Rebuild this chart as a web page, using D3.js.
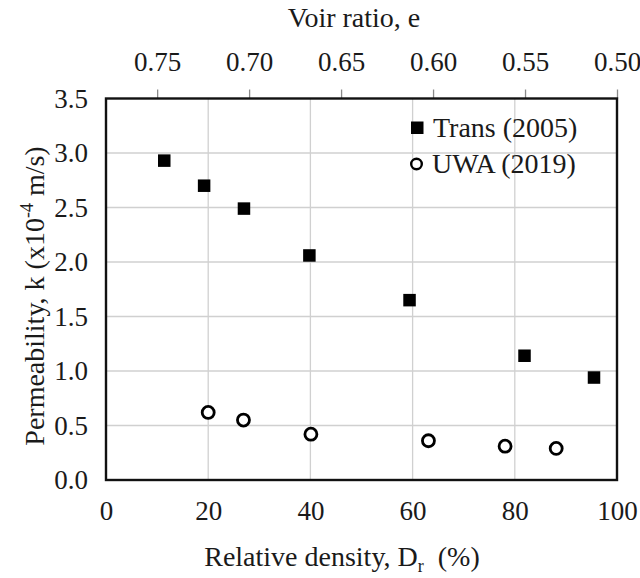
<!DOCTYPE html>
<html>
<head>
<meta charset="utf-8">
<script src="https://cdn.jsdelivr.net/npm/d3@7"></script>
<style>
  html, body { margin: 0; padding: 0; background: #fff; }
  svg { display: block; }
</style>
</head>
<body>
<svg id="chart" width="640" height="578"></svg>
<script>
// Relative density (%) and permeability (x10^-4 m/s)
const transDr = [11.4, 19.2, 27.0, 39.8, 59.4, 81.9, 95.5];
const transK  = [2.93, 2.70, 2.49, 2.06, 1.65, 1.14, 0.94];
const uwaDr   = [20.0, 26.9, 40.1, 63.1, 78.1, 88.1];
const uwaK    = [0.62, 0.55, 0.42, 0.36, 0.31, 0.29];

const seriesNames = ["Trans (2005)", "UWA (2019)"];
const drTicks = [0, 20, 40, 60, 80, 100];
const kTicks = [0, 0.5, 1.0, 1.5, 2.0, 2.5, 3.0, 3.5];
const eTicks = [0.75, 0.70, 0.65, 0.60, 0.55, 0.50];
// void ratio at Dr = 0 % and Dr = 100 %
const eMax = 0.7778, eMin = 0.50;

const FONT = '"Liberation Serif", "Times New Roman", Tinos, monospace';
const INK = "#1a1a1a";

const svg = d3.select("#chart");
const plot = { left: 106, right: 617, top: 98.5, bottom: 480 };

const x = d3.scaleLinear().domain([0, 100]).range([plot.left, plot.right]);
const xTop = d3.scaleLinear().domain([eMax, eMin]).range([plot.left, plot.right]);
const y = d3.scaleLinear().domain([0, 3.5]).range([plot.bottom, plot.top]);

function styleText(sel, size) {
  sel.style("font-family", FONT).style("font-size", size + "px").style("fill", INK);
}

// gridlines
const grid = svg.append("g").attr("stroke", "#d0d0d0").attr("stroke-width", 1.3);
grid.selectAll("line.h").data(kTicks.filter(d => d > 0 && d < 3.5)).join("line")
  .attr("x1", plot.left).attr("x2", plot.right)
  .attr("y1", d => y(d)).attr("y2", d => y(d));
grid.selectAll("line.v").data(drTicks.filter(d => d > 0 && d < 100)).join("line")
  .attr("y1", plot.top).attr("y2", plot.bottom)
  .attr("x1", d => x(d)).attr("x2", d => x(d));

// top axis: void ratio with outward ticks
const topAxis = svg.append("g")
  .attr("transform", `translate(0,${plot.top})`)
  .call(d3.axisTop(xTop).tickValues(eTicks).tickFormat(d3.format(".2f")).tickSize(9).tickPadding(19));
topAxis.select(".domain").remove();
topAxis.selectAll(".tick line").attr("stroke", "#8a8a8a").attr("stroke-width", 1.3);
styleText(topAxis.selectAll(".tick text"), 27);

// bottom axis: relative density (labels only)
const botAxis = svg.append("g")
  .attr("transform", `translate(0,${plot.bottom})`)
  .call(d3.axisBottom(x).tickValues(drTicks).tickFormat(d3.format("d")).tickSize(0).tickPadding(21));
botAxis.select(".domain").remove();
styleText(botAxis.selectAll(".tick text"), 27);

// left axis: permeability (labels only)
const leftAxis = svg.append("g")
  .attr("transform", `translate(${plot.left},0)`)
  .call(d3.axisLeft(y).tickValues(kTicks).tickFormat(d3.format(".1f")).tickSize(0).tickPadding(18));
leftAxis.select(".domain").remove();
styleText(leftAxis.selectAll(".tick text"), 27);

// plot frame
svg.append("rect")
  .attr("x", plot.left).attr("y", plot.top)
  .attr("width", plot.right - plot.left).attr("height", plot.bottom - plot.top)
  .attr("fill", "none").attr("stroke", "#111").attr("stroke-width", 2.4);

// Trans (2005): filled squares
const sq = 12.5;
svg.append("g").selectAll("rect").data(transDr.map((d, i) => [d, transK[i]])).join("rect")
  .attr("x", d => x(d[0]) - sq / 2).attr("y", d => y(d[1]) - sq / 2)
  .attr("width", sq).attr("height", sq).attr("fill", "#000");

// UWA (2019): open circles
svg.append("g").selectAll("circle").data(uwaDr.map((d, i) => [d, uwaK[i]])).join("circle")
  .attr("cx", d => x(d[0])).attr("cy", d => y(d[1])).attr("r", 6)
  .attr("fill", "#fff").attr("stroke", "#000").attr("stroke-width", 2.8);

// legend
const legend = svg.append("g");
legend.append("rect").attr("x", 411).attr("y", 121.5).attr("width", 12.5).attr("height", 12.5).attr("fill", "#000");
styleText(legend.append("text").attr("x", 433).attr("y", 137).text(seriesNames[0]), 28);
legend.append("circle").attr("cx", 416.5).attr("cy", 164).attr("r", 5.3)
  .attr("fill", "#fff").attr("stroke", "#000").attr("stroke-width", 2.4);
styleText(legend.append("text").attr("x", 432).attr("y", 173).text(seriesNames[1]), 28);

// axis titles
styleText(svg.append("text").attr("x", 354).attr("y", 27).attr("text-anchor", "middle")
  .text("Voir ratio, e"), 28);

const xt = svg.append("text").attr("x", 342).attr("y", 566).attr("text-anchor", "middle");
styleText(xt, 28);
xt.append("tspan").text("Relative density, D");
xt.append("tspan").style("font-size", "18px").attr("dy", 6).text("r");
xt.append("tspan").attr("dy", -6).text("\u00a0 (%)");

const yt = svg.append("text").attr("transform", "translate(44,296) rotate(-90)")
  .attr("text-anchor", "middle");
styleText(yt, 28);
yt.append("tspan").text("Permeability, k (x10");
yt.append("tspan").style("font-size", "18px").attr("dy", -11).text("-4");
yt.append("tspan").attr("dy", 11).text(" m/s)");
</script>
</body>
</html>
